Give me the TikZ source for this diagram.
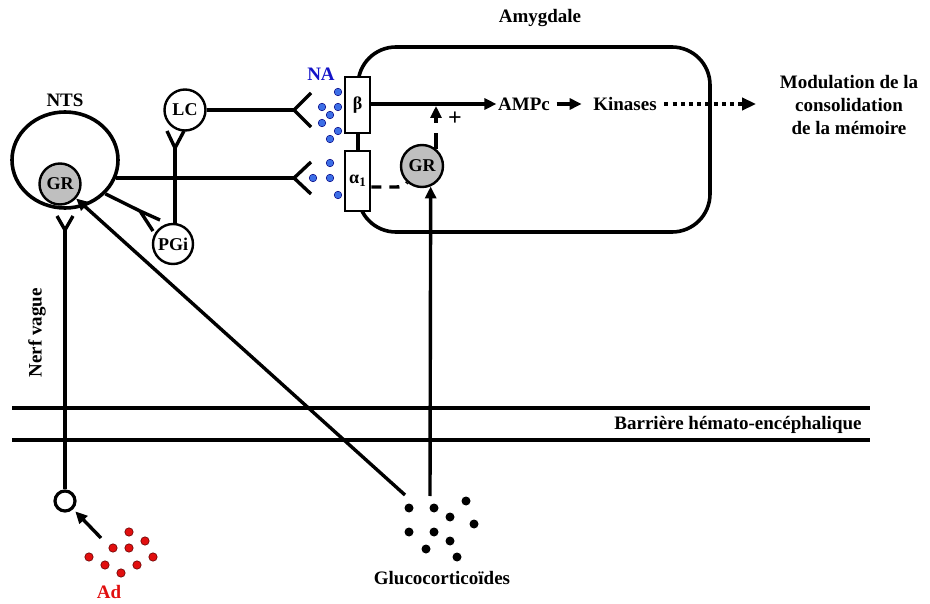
\documentclass[tikz,border=0pt]{standalone}
\usepackage{fontspec}
\setmainfont{Liberation Serif}
\usetikzlibrary{arrows.meta,shapes.geometric}
\definecolor{nablue}{RGB}{20,20,200}
\definecolor{dotblue}{RGB}{60,110,230}
\definecolor{adred}{RGB}{225,15,15}
\begin{document}
\begin{tikzpicture}[x=1pt,y=-1pt,line width=3.4pt,
  txt/.style={font=\bfseries\fontsize{19}{23}\selectfont, inner sep=0pt},
  cell/.style={circle,draw,line width=2.4pt,fill=white,inner sep=0pt,minimum size=41pt,font=\bfseries\fontsize{18}{20}\selectfont},
  grcell/.style={cell,fill=gray!50},
  rec/.style={rectangle,draw,line width=2.7pt,fill=white,minimum width=25pt,inner sep=0pt,font=\bfseries\fontsize{18}{20}\selectfont},
  arr/.style={-{Triangle[length=12pt,width=11pt]}},
  bdot/.style={fill=dotblue,draw=blue!50!black,line width=0.5pt},
  rdot/.style={fill=adred,draw=red!40!black,line width=0.6pt},
  kdot/.style={fill=black},
]
\useasboundingbox (0,0) rectangle (930,604);

% Amygdala box
\node[draw,line width=3.6pt,rounded corners=38pt,minimum width=352pt,minimum height=185pt] (amy) at (534,139.5) {};
\node[txt] (amylbl) at (540,18) {Amygdale};

% receptors
\node[rec,minimum height=56pt] (beta) at (357.5,105) {β};
\node[rec,minimum height=60pt] (a1) at (357.5,181) {α\raisebox{-0.4ex}{\fontsize{13}{13}\selectfont 1}};

% NTS
\node[ellipse,draw,line width=3.6pt,minimum width=106pt,minimum height=96pt] (nts) at (65,160) {};
\node[txt] (ntslbl) at (65,100) {NTS};
\node[grcell] (grN) at (60,184) {GR};

% LC, PGi
\node[cell] (lc) at (185,110) {LC};
\node[cell,minimum size=40pt] (pgi) at (173,244) {PGi};

% GR amygdala
\node[grcell,minimum size=42pt] (grA) at (422,166) {GR};

% forks
\coordinate (fk1) at (294,110);
\coordinate (fk2) at (294,178);
\coordinate (fk3) at (175,148);
\coordinate (fk4) at (65,230);
\coordinate (fk5) at (140,211);

\draw (lc.east) -- (fk1);
\draw (fk1) -- ++(17,-17);
\draw (fk1) -- ++(17,17);
\draw (nts.-20 |- fk2) -- (fk2);
\draw (fk2) -- ++(17,-16);
\draw (fk2) -- ++(17,16);

\draw ([xshift=2pt]pgi.north) -- (fk3);
\draw (fk3) -- ++(-8,-17);
\draw (fk3) -- ++(9,-17);

\draw (nts.-40) -- (fk5);
\draw (fk5) -- ++(20,9);
\draw (fk5) -- ++(13,20);

% Nerf vague
\node[circle,draw,line width=3.2pt,minimum size=20pt,inner sep=0pt] (vc) at (65,501) {};
\draw (vc.north) -- (fk4);
\draw (fk4) -- ++(-8,-14);
\draw (fk4) -- ++(8,-14);
\node[txt,rotate=90] (nerf) at (37,333) {Nerf vague};

% Ad
\coordinate (adst) at (101,538);
\draw[arr,shorten >=3pt] (adst) -- (vc.-45);
\foreach \p in {(129,532),(145,541),(113,548),(129,548),(89,557),(153,557),(105,565),(137,565),(121,573)}
  \draw[rdot] \p circle (4.2pt);
\node[txt,text=adred] (adlbl) at (109,592) {Ad};

% NA dots
\foreach \p in {(338,92),(322,107),(338,107),(330,115),(322,123),(338,131),(330,139),(330,163),(313,178),(330,178),(338,195)}
  \draw[bdot] \p circle (3.8pt);
\node[txt,text=nablue] (nalbl) at (321,74) {NA};

% signalling in amygdala
\node[txt] (ampc) at (524,104) {AMPc};
\node[txt] (kin) at (625,104) {Kinases};
\node[txt,align=center] (modu) at (849,105) {Modulation de la\\consolidation\\de la mémoire};
\draw[arr] (beta.east |- ampc) -- (ampc.west);
\draw[arr] ([xshift=5pt]ampc.east) -- ([xshift=-10pt]kin.west);
\draw[-{Triangle[length=14pt,width=12pt]},line width=3.6pt,dash pattern=on 4pt off 4.2pt] ([xshift=6pt]kin.east) -- ([xshift=-22pt]modu.west |- kin);

\coordinate (gtop) at (436,149);
\coordinate (junc) at (436,106);
\draw[arr,dash pattern=on 16pt off 10pt] (gtop) -- (junc);
\node[font=\bfseries\fontsize{24}{24}\selectfont,inner sep=0pt] (plus) at (455,119) {+};

\draw[dash pattern=on 10pt off 8pt] ([yshift=-6pt]a1.east) -- (396,187) .. controls (404,187) and (406,184) .. (grA.228);

% barrier
\coordinate (b1l) at (12,408);
\coordinate (b1r) at (870,408);
\coordinate (b2l) at (12,440);
\coordinate (b2r) at (870,440);
\draw (b1l) -- (b1r);
\draw (b2l) -- (b2r);
\node[txt] (bhe) at (738,425) {Barrière hémato-encéphalique};

% glucocorticoids
\coordinate (gcV) at (430,496);
\coordinate (gcD) at (405,495);
\draw[arr] (gcV) -- (grA.-67);
\draw[arr] (gcD) -- (grN.-42);
\foreach \p in {(409,508),(434,508),(466,501),(450,517),(474,524),(409,532),(434,532),(450,541),(426,549),(457,557)}
  \fill[kdot] \p circle (4.5pt);
\node[txt] (gclbl) at (442,578) {Glucocorticoïdes};
\end{tikzpicture}
\end{document}
